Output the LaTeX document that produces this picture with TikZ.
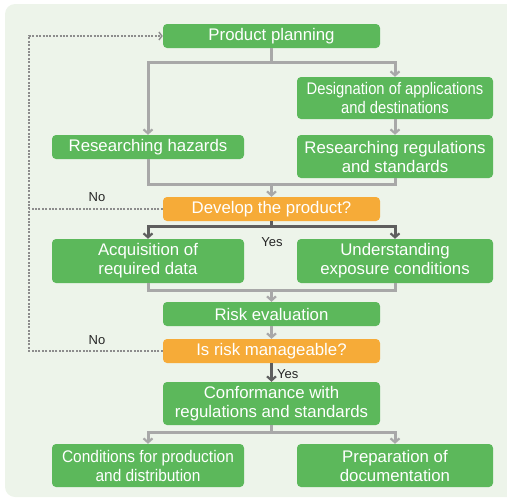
\documentclass[tikz,border=0pt]{standalone}
\usepackage{fontspec}
\setmainfont{Liberation Sans}
\usetikzlibrary{arrows.meta}
\definecolor{bggreen}{HTML}{EDF4EA}
\definecolor{boxgreen}{HTML}{5CB85B}
\definecolor{boxorange}{HTML}{F6AB38}
\definecolor{lgrey}{HTML}{A8A8A8}
\definecolor{dgrey}{HTML}{5E5E5E}
\definecolor{dotgrey}{HTML}{8C8C8C}
\newcommand{\hsq}[2]{\scalebox{#1}[1]{#2}}
\tikzset{
  box/.style={draw=none, fill=boxgreen, rounded corners=4pt, text=white, align=center,
    inner sep=0pt, font=\fontsize{16.8}{19}\selectfont},
  wbox/.style={box, minimum width=217pt},
  lbox/.style={box, minimum width=192pt},
  rbox/.style={box, minimum width=196pt},
  qbox/.style={wbox, fill=boxorange},
  line/.style={draw=lgrey, line width=3pt},
  arr/.style={line, -{Straight Barb[length=4pt,width=9pt,line width=2.2pt]}},
  dline/.style={draw=dgrey, line width=3pt},
  darr/.style={dline, -{Straight Barb[length=4pt,width=9pt,line width=2.2pt]}},
  dotline/.style={draw=dotgrey, line width=2.8pt, dash pattern=on 2pt off 1.4pt},
  dotarr/.style={dotline, -{Straight Barb[length=3pt,width=8pt,line width=1.4pt]}},
  lbl/.style={text=black!85, font=\fontsize{13}{15}\selectfont, inner sep=0pt}
}
\begin{document}
\begin{tikzpicture}[x=1pt,y=-1pt]
\useasboundingbox (0,0) rectangle (507,499);
\clip (0,0) rectangle (507,499);
\fill[bggreen] (5,4) [rounded corners=10pt] rectangle (520,497);

\node[wbox, minimum height=24pt] (pp) at (271.5,36) {Product planning};
\node[rbox, minimum height=42pt] (des) at (395,98) {\hsq{0.88}{Designation of applications}\\\hsq{0.88}{and destinations}};
\node[lbox, minimum height=24pt] (haz) at (148,147) {Researching hazards};
\node[rbox, minimum height=43pt] (reg) at (395,156.5) {Researching regulations\\and standards};
\node[qbox, minimum height=24pt] (dev) at (271.5,209) {Develop the product?};
\node[lbox, minimum height=44pt] (acq) at (148,261) {Acquisition of\\required data};
\node[rbox, minimum height=44pt] (und) at (395,261) {Understanding\\exposure conditions};
\node[wbox, minimum height=24pt] (risk) at (271.5,314) {Risk evaluation};
\node[qbox, minimum height=24pt] (man) at (271.5,351) {Is risk manageable?};
\node[wbox, minimum height=43pt] (conf) at (271.5,403.5) {Conformance with\\regulations and standards};
\node[lbox, minimum height=43pt] (cond) at (148,465.5) {\hsq{0.92}{Conditions for production}\\\hsq{0.92}{and distribution}};
\node[rbox, minimum height=43pt] (prep) at (395,465.5) {Preparation of\\documentation};

% product planning split
\coordinate (j1) at (271.5,62);
\draw[line] (pp.south) -- (j1);
\draw[arr] (j1) -| (haz.north);
\draw[arr] (j1) -| (des.north);
\draw[arr] (des.south) -- (reg.north);

% merge to develop
\coordinate (j2) at (271.5,184);
\draw[line] (haz.south) |- (j2);
\draw[line] (reg.south) |- (j2);
\draw[arr] (j2) -- (dev.north);

% yes split
\coordinate (j3) at (271.5,226);
\draw[dline] (dev.south) -- (j3);
\draw[darr] (j3) -| (acq.north);
\draw[darr] (j3) -| (und.north);
\node[lbl] (yes1) at (272,242) {Yes};

% merge to risk
\coordinate (j4) at (271.5,290);
\draw[line] (acq.south) |- (j4);
\draw[line] (und.south) |- (j4);
\draw[arr] (j4) -- (risk.north);
\draw[arr] (risk.south) -- (man.north);

% yes to conformance
\draw[darr] (man.south) -- (conf.north);
\node[lbl, anchor=west] (yes2) at (277,374) {Yes};

% conformance split
\coordinate (j5) at (271.5,432);
\draw[line] (conf.south) -- (j5);
\draw[arr] (j5) -| (cond.north);
\draw[arr] (j5) -| (prep.north);

% No loops
\coordinate (c1) at (29,36);
\draw[dotarr] (man.west) -| (c1) -- (pp.west);
\draw[dotline] (dev.west) -- (dev.west -| c1);
\node[lbl] (no1) at (97,197) {No};
\node[lbl] (no2) at (97,340) {No};
\end{tikzpicture}
\end{document}
